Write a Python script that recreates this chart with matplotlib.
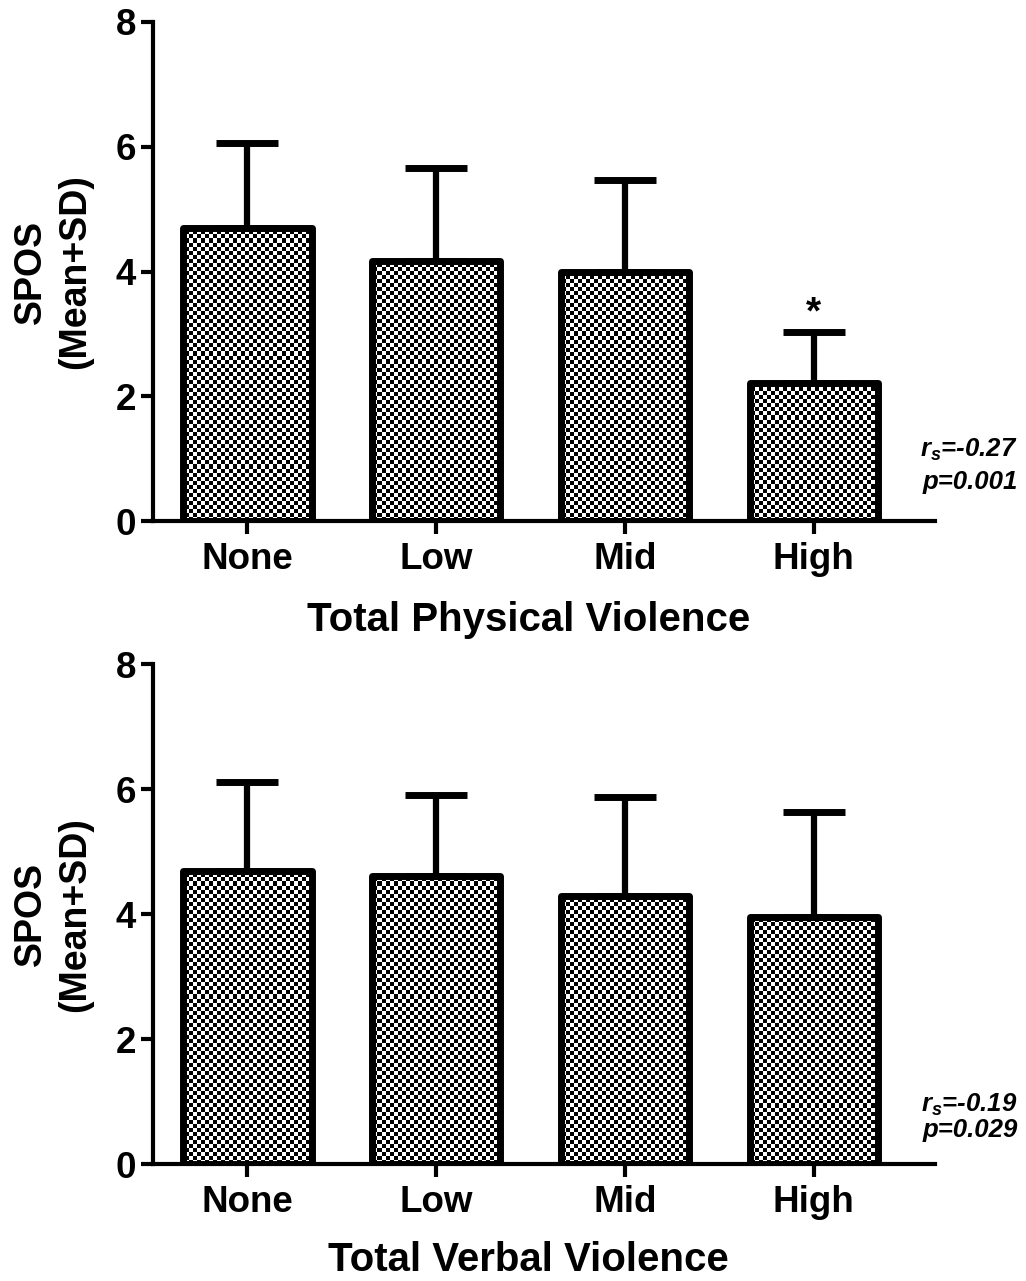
import numpy as np
import matplotlib
matplotlib.use("Agg")
import matplotlib.pyplot as plt

plt.rcParams['font.family'] = ['Liberation Sans', 'DejaVu Sans']
plt.rcParams['font.weight'] = 'bold'
plt.rcParams['mathtext.fontset'] = 'custom'
plt.rcParams['mathtext.it'] = 'Liberation Sans:bold:italic'
plt.rcParams['mathtext.rm'] = 'Liberation Sans:bold'

# 数据
groups = ['None', 'Low', 'Mid', 'High']
phys_mean = [4.70, 4.17, 4.00, 2.21]
phys_sd = [1.36, 1.49, 1.46, 0.82]
verb_mean = [4.70, 4.62, 4.30, 3.95]
verb_sd = [1.42, 1.29, 1.58, 1.68]
phys_stats = ['$r_s$=-0.27', 'p=0.001']
verb_stats = ['$r_s$=-0.19', 'p=0.029']

fig = plt.figure(figsize=(10.26, 12.81), dpi=100)
ax1 = fig.add_axes([0.149, 0.593, 0.762, 0.390])
ax2 = fig.add_axes([0.149, 0.0913, 0.762, 0.390])


def checker(ax, bars, cell=4):
    # 棋盘格填充，裁剪到每个柱子
    bb = ax.get_position()
    w = int(bb.width * fig.get_figwidth() * fig.dpi / cell)
    h = int(bb.height * fig.get_figheight() * fig.dpi / cell)
    img = (np.add.outer(np.arange(h), np.arange(w)) % 2).astype(float)
    x0, x1 = ax.get_xlim()
    y0, y1 = ax.get_ylim()
    for b in bars:
        im = ax.imshow(img, cmap='gray', extent=(x0, x1, y0, y1), aspect='auto',
                       interpolation='nearest', zorder=2, vmin=0, vmax=1)
        im.set_clip_path(b)


def panel(ax, mean, sd, xlabel, stats, ystats, lpad, star=None):
    x = np.arange(len(groups))
    ax.set_xlim(-0.50, 3.64)
    ax.set_ylim(0, 8)
    ax.errorbar(x, mean, yerr=[np.zeros(len(sd)), sd], fmt='none', ecolor='black',
                elinewidth=4.5, capsize=22, capthick=5, zorder=2.5)
    bars = ax.bar(x, mean, width=0.68, facecolor='none', edgecolor='black',
                  linewidth=5, joinstyle='round', zorder=3)
    checker(ax, bars)
    for s in ['top', 'right']:
        ax.spines[s].set_visible(False)
    for s in ['left', 'bottom']:
        ax.spines[s].set_linewidth(3)
    ax.set_yticks([0, 2, 4, 6, 8])
    ax.set_xticks(x)
    ax.set_xticklabels(groups)
    ax.tick_params(axis='both', width=3, length=9, labelsize=26.5)
    ax.tick_params(axis='x', pad=6)
    ax.tick_params(axis='y', pad=3)
    ax.set_xlabel(xlabel, fontsize=29, fontweight='bold', labelpad=lpad)
    ax.xaxis.label.set_x(0.48)
    ax.set_ylabel('SPOS\n(Mean+SD)', fontsize=27, fontweight='bold',
                  linespacing=1.3, labelpad=16)
    for t, yy in zip(stats, ystats):
        ax.text(4.08, yy, t, ha='right', va='center', fontsize=18.5,
                fontweight='bold', style='italic', clip_on=False)
    if star is not None:
        ax.text(star, mean[star] + sd[star] + 0.30, '*', ha='center', va='center',
                fontsize=28, fontweight='bold')


panel(ax1, phys_mean, phys_sd, 'Total Physical Violence', phys_stats, [1.14, 0.63], 17, star=3)
panel(ax2, verb_mean, verb_sd, 'Total Verbal Violence', verb_stats, [0.95, 0.54], 15)

fig.savefig('out.png', dpi=100)
